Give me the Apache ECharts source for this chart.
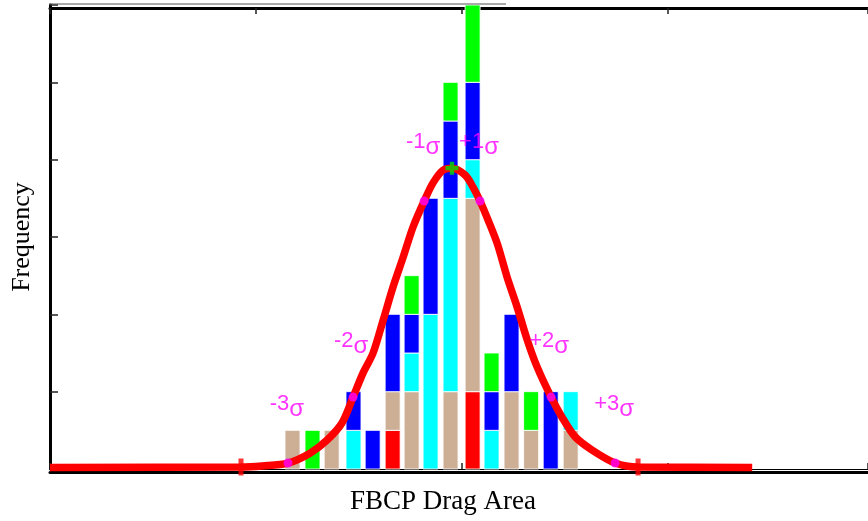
<!DOCTYPE html>
<html><head><meta charset="utf-8">
<script src="https://cdn.jsdelivr.net/npm/echarts@6/dist/echarts.min.js"></script>
<style>html,body{margin:0;padding:0;background:#fff}#c{width:868px;height:521px}</style>
</head><body><div id="c"></div>
<script>
// Histogram bins (bin centres on the drag-area axis) and stacked counts per group
const binCenters = [1.177,1.274,1.367,1.473,1.566,1.663,1.755,1.847,1.944,2.051,2.143,2.240,2.335,2.430,2.527];
const redCounts   = [0,0,0,0,0,1,0,0,0,2,0,0,0,0,0];
const tanCounts   = [1,0,1,0,0,1,2,0,2,5,0,2,1,0,1];
const cyanCounts  = [0,0,0,1,0,0,1,4,5,1,1,0,0,0,1];
const blueCounts  = [0,0,0,1,1,2,1,3,2,2,1,2,0,2,0];
const greenCounts = [0,1,0,0,0,0,1,0,1,2,1,0,1,0,0];

// Fitted distribution curve
const curveX = [0,0.927,1.029,1.155,1.262,1.345,1.417,1.471,1.519,1.568,1.617,1.665,1.714,1.762,1.816,1.859,1.908,1.951,2.015,2.053,2.087,2.126,2.170,2.218,2.267,2.316,2.364,2.432,2.485,2.549,2.631,2.743,2.854,3.408];
const curveY = [0.04,0.05,0.08,0.155,0.41,0.75,1.19,1.86,2.48,3.0,3.85,4.71,5.48,6.26,6.93,7.40,7.73,7.78,7.60,7.29,6.93,6.44,5.84,4.97,4.19,3.34,2.64,1.86,1.34,0.83,0.49,0.155,0.05,0.04];

// Sigma markers
const sigmaLabels = ['-3','-2','-1','+1','+2','+3'];
const sigmaX = [1.155,1.471,1.816,2.087,2.432,2.743];
const sigmaY = [0.155,1.86,6.93,6.93,1.86,0.155];
const meanX = [1.951];
const meanY = [7.78];
const tailMarkX = [0.927,2.854];
const tailMarkY = [0.05,0.05];

const xTickInterval = 1;
const yTickInterval = 2;

const chart = echarts.init(document.getElementById('c'), null, {renderer:'canvas'});

// stacking order bottom -> top
const groups = [
  {name:'red',   color:'#ff0000', counts:redCounts},
  {name:'tan',   color:'#cdaf96', counts:tanCounts},
  {name:'cyan',  color:'#00ffff', counts:cyanCounts},
  {name:'blue',  color:'#0000ff', counts:blueCounts},
  {name:'green', color:'#00ff00', counts:greenCounts}
];
const running = binCenters.map(()=>0);
const barSeries = groups.map(g => {
  const data = binCenters.map((x,i)=>{
    const base = running[i];
    running[i] += g.counts[i];
    return [x, base, running[i]];
  }).filter(d => d[2] > d[1]);
  return {
    name:g.name, type:'custom', z:2,
    encode:{x:0, y:[1,2]},
    data,
    renderItem:(params, api)=>{
      const x = api.value(0), b = api.value(1), t = api.value(2);
      const p0 = api.coord([x,b]), p1 = api.coord([x,t]);
      return {type:'rect', shape:{x:p0[0]-7.5, y:p1[1], width:15, height:p0[1]-p1[1]},
        style:{fill:g.color, stroke:'rgba(255,255,255,0.85)', lineWidth:1}};
    }
  };
});

const plusPath = 'path://M1,0H2V1H3V2H2V3H1V2H0V1H1Z';
const labelOffsets = {'-3':[-1,-58],'-2':[-2,-55],'-1':[-1,-58],'+1':[-1,-58],'+2':[-2,-55],'+3':[-1,-58]};

chart.setOption({
  animation:false,
  backgroundColor:'#fff',
  grid:{left:50, right:0, top:5, bottom:52},
  xAxis:[{
    type:'value', position:'bottom', min:0, max:3.97, interval:xTickInterval,
    axisLine:{lineStyle:{color:'#000', width:1}},
    axisTick:{inside:true, length:6, lineStyle:{color:'#222', width:1.5}},
    axisLabel:{show:false}, splitLine:{show:false},
    name:'FBCP Drag Area', nameLocation:'middle', nameGap:19,
    nameTextStyle:{fontFamily:'Liberation Serif', fontSize:27, color:'#000', padding:[0,32,0,0]}
  },{
    type:'value', position:'bottom', offset:3, min:0, max:3.97,
    axisLine:{lineStyle:{color:'#000', width:3}},
    axisTick:{show:false}, axisLabel:{show:false}, splitLine:{show:false}
  },{
    type:'value', position:'top', offset:-3, min:0, max:3.97, interval:xTickInterval,
    axisLine:{lineStyle:{color:'#000', width:3}},
    axisTick:{inside:true, length:6, lineStyle:{color:'#222', width:1.5}},
    axisLabel:{show:false}, splitLine:{show:false}
  }],
  yAxis:{
    type:'value', min:0, max:12, interval:yTickInterval,
    axisLine:{show:true, lineStyle:{color:'#000', width:3}},
    axisTick:{show:true, inside:true, length:8, lineStyle:{color:'#222', width:1.5}},
    axisLabel:{show:false}, splitLine:{show:false},
    name:'Frequency', nameLocation:'middle', nameGap:15,
    nameTextStyle:{fontFamily:'Liberation Serif', fontSize:26, color:'#000'}
  },
  graphic:[{type:'line', shape:{x1:49, y1:4, x2:506, y2:4}, style:{stroke:'#555', lineWidth:1}, z:10}],
  series:[
    ...barSeries,
    {
      type:'line', z:5, smooth:0.3, showSymbol:false, clip:false,
      lineStyle:{color:'#ff0000', width:7.5},
      data: curveX.map((x,i)=>[x,curveY[i]])
    },
    {
      type:'scatter', z:6, symbol:plusPath, symbolSize:[15,17],
      itemStyle:{color:'#ff0000'},
      data: tailMarkX.map((x,i)=>[x,tailMarkY[i]])
    },
    {
      type:'scatter', z:7, symbol:plusPath, symbolSize:13,
      itemStyle:{color:'#00e000'},
      data: meanX.map((x,i)=>[x,meanY[i]])
    },
    {
      type:'scatter', z:7, symbol:'circle', symbolSize:9,
      itemStyle:{color:'#ff00ff'},
      data: sigmaX.map((x,i)=>({
        value:[x,sigmaY[i]], name:sigmaLabels[i],
        label:{show:true, position:'inside', offset:labelOffsets[sigmaLabels[i]],
          formatter:'{n|'+sigmaLabels[i]+'}{s|σ}',
          rich:{
            n:{fontFamily:'Liberation Sans', fontSize:22, lineHeight:22, color:'#ff00ff', verticalAlign:'top'},
            s:{fontFamily:'Liberation Sans', fontSize:24, lineHeight:24, color:'#ff00ff', verticalAlign:'top', padding:[4,0,0,0]}
          }}
      }))
    }
  ]
});
</script></body></html>
